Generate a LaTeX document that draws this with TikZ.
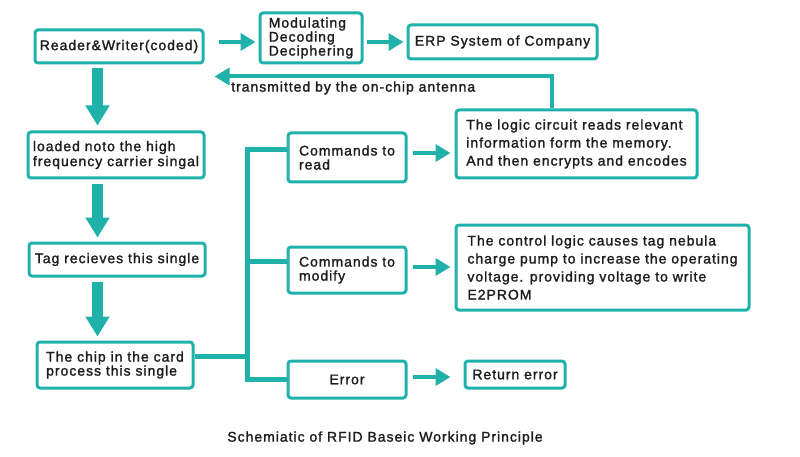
\documentclass[tikz,border=0pt]{standalone}
\usepackage{fontspec}
\setmainfont{Liberation Sans}[LetterSpace=7,FakeBold=1.6]
\usetikzlibrary{arrows.meta,calc}
\definecolor{tl}{RGB}{32,178,170}
\definecolor{tx}{RGB}{30,30,30}
\begin{document}
\begin{tikzpicture}[x=1pt,y=-1pt,
  box/.style={draw=tl, line width=3pt, rounded corners=3pt, fill=white, inner sep=0pt, align=left, text=tx, font=\fontsize{14}{15}\selectfont},
  arr/.style={draw=tl, line width=4pt, -{Triangle[length=15pt,width=17pt]}},
  big/.style={draw=tl, line width=11pt, -{Triangle[length=20pt,width=23pt]}},
  bus/.style={draw=tl, line width=5pt},
  lab/.style={text=tx, inner sep=0pt, font=\fontsize{14}{15}\selectfont}]
\useasboundingbox (0,0) rectangle (800,457);
\fill[white] (0,0) rectangle (800,457);

\node[box, minimum width=168pt, minimum height=33pt, align=center] (rw) at (119,46.5) {Reader\&Writer(coded)};
\node[box, minimum width=102pt, minimum height=50pt, font=\fontsize{14}{14}\selectfont] (mod) at (311,38) {Modulating\\Decoding\\Deciphering};
\node[box, minimum width=189pt, minimum height=34pt] (erp) at (502.5,42) {ERP System of Company};
\node[box, minimum width=176pt, minimum height=46pt] (load) at (116,155) {loaded noto the high\\frequency carrier singal};
\node[box, minimum width=176pt, minimum height=33pt] (tag) at (117,259.5) {Tag recieves this single};
\node[box, minimum width=156pt, minimum height=46pt, font=\fontsize{14}{14}\selectfont] (chip) at (115,365) {The chip in the card\\process this single};
\node[box, minimum width=118pt, minimum height=49pt, font=\fontsize{14}{14}\selectfont] (cread) at (347,157.5) {Commands to\\read};
\node[box, minimum width=118pt, minimum height=46pt, font=\fontsize{14}{14}\selectfont] (cmod) at (347,270) {Commands to\\modify};
\node[box, minimum width=118pt, minimum height=37pt, align=center] (err) at (347,379.5) {Error};
\node[box, minimum width=241pt, minimum height=68pt, font=\fontsize{14}{18}\selectfont] (logic) at (576.5,144) {The logic circuit reads relevant\\information form the memory.\\And then encrypts and encodes};
\node[box, minimum width=293pt, minimum height=85pt, font=\fontsize{14}{18}\selectfont] (ctrl) at (602.5,267.5) {The control logic causes tag nebula\\charge pump to increase the operating\\voltage. providing voltage to write\\E2PROM};
\node[box, minimum width=100pt, minimum height=27pt, align=center] (rerr) at (515,374.5) {Return error};
\node[lab, anchor=west] (lbl) at (231,88) {transmitted by the on-chip antenna};
\node[lab] (cap) at (385,438) {Schemiatic of RFID Baseic Working Principle};

\draw[arr, shorten <=14pt, shorten >=3pt] ([yshift=4.5pt]rw.east) -- ([yshift=4.5pt]rw.east -| mod.west);
\draw[arr, shorten <=3pt, shorten >=3pt] (mod.east |- erp.west) -- (erp.west);
\draw[arr] ([xshift=-24.5pt]logic.north) |- ([xshift=10pt,yshift=-12pt]rw.south east);

\coordinate (ax) at (97.5,0);
\draw[big, shorten <=4pt, shorten >=5pt] (ax |- rw.south) -- (ax |- load.north);
\draw[big, shorten <=5pt, shorten >=4pt] (ax |- load.south) -- (ax |- tag.north);
\draw[big, shorten <=4pt, shorten >=4pt] (ax |- tag.south) -- (ax |- chip.north);

\coordinate (bx) at (247,0);
\draw[bus] ([yshift=7.5pt]cread.west) -| (bx |- err.west) -- (err.west);
\draw[bus] ([yshift=9pt]cmod.west) -- ([yshift=9pt]cmod.west -| bx);
\draw[bus] ([yshift=9pt]chip.east) -- ([yshift=9pt]chip.east -| bx);

\draw[arr, shorten <=5pt, shorten >=4pt] ([yshift=4.5pt]cread.east) -- ([yshift=4.5pt]cread.east -| logic.west);
\draw[arr, shorten <=5pt, shorten >=4pt] ([yshift=3pt]cmod.east) -- ([yshift=3pt]cmod.east -| ctrl.west);
\draw[arr, shorten <=5pt, shorten >=13pt] ([yshift=2.5pt]err.east) -- ([yshift=2.5pt]err.east -| rerr.west);
\end{tikzpicture}
\end{document}
